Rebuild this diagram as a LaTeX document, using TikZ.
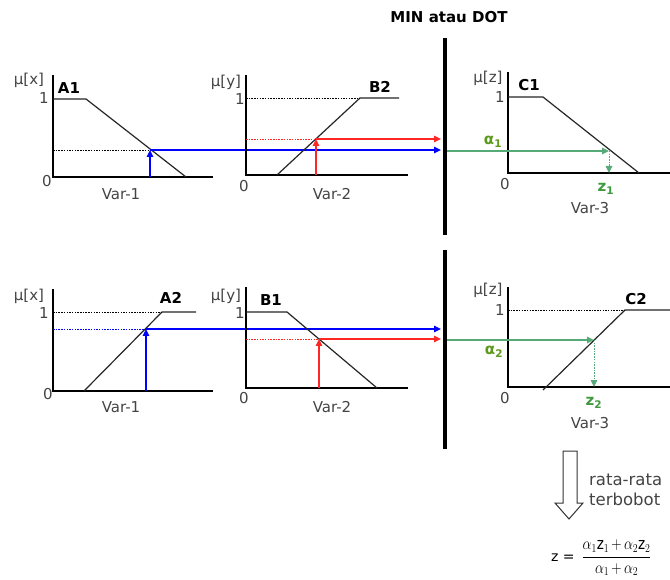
\documentclass[tikz,border=0pt]{standalone}
\usepackage{fontspec}
\setmainfont{DejaVu Sans}
\usepackage{amsmath}
\usetikzlibrary{arrows.meta, positioning}
\definecolor{inblue}{HTML}{0000FF}
\definecolor{inred}{HTML}{FF2626}
\definecolor{outgreen}{HTML}{55AA77}
\definecolor{alphagreen}{HTML}{5C9A1C}
\definecolor{zgreen}{HTML}{3E9A3E}
\definecolor{axgray}{HTML}{444444}

\begin{document}
\begin{tikzpicture}[x=1pt, y=-1pt,
    axis/.style={draw=black, line width=1.4pt},
    memb/.style={draw=black!85, line width=1.2pt},
    guide/.style={line width=0.9pt, dash pattern=on 1.5pt off 1.2pt},
    feed/.style={line width=1.3pt, -{Triangle[length=7pt, width=6.5pt]}},
    drop/.style={outgreen, guide, -{Triangle[length=7pt, width=6.5pt]}},
    gate/.style={draw=black, line width=4.5pt},
    lbl/.style={text=axgray, font=\fontsize{15}{17}\selectfont, inner sep=0pt},
    setname/.style={font=\fontsize{15}{17}\selectfont\bfseries, inner sep=0pt},
    alab/.style={text=alphagreen, font=\fontsize{15}{17}\selectfont\bfseries, inner sep=0pt},
    zlab/.style={text=zgreen, font=\fontsize{15}{17}\selectfont\bfseries, inner sep=0pt},
  ]
  \useasboundingbox[fill=white] (0,0) rectangle (670,580);

  % gate between the rules
  \node[setname] (title) at (449,17) {MIN atau DOT};
  \coordinate (g1top) at (445,38);
  \coordinate (g1bot) at (445,235);
  \coordinate (g2top) at (445,250);
  \coordinate (g2bot) at (445,449);
  \coordinate (gatein) at (441,0);
  \coordinate (gateout) at (447,0);
  \draw[gate] (g1top) -- (g1bot);
  \draw[gate] (g2top) -- (g2bot);

  % rule 1 : A1
  \draw[axis] (53,75) -- (53,177) -- (213,177);
  \draw[memb] (53,99) -- (86,99) -- (186,177);
  \node[lbl] (mux1) at (29,80) {μ[x]};
  \node[lbl] (onea1) at (44,98) {1};
  \node[lbl] (zeroa1) at (47,181) {0};
  \node[setname] (a1) at (69,88) {A1};
  \node[lbl] (var1a) at (121,194) {Var-1};
  \coordinate (a1in) at (150,177);
  \coordinate (a1cut) at (150,150);
  \draw[guide] (53,150) -- (a1cut);
  \draw[feed, inblue] (a1in) -- (a1cut);
  \draw[feed, inblue] (a1cut) -- (a1cut -| gatein);

  % rule 1 : B2
  \draw[axis] (246,75) -- (246,175) -- (408,175);
  \draw[memb] (277,175) -- (360,98) -- (399,98);
  \draw[guide] (246,98) -- (360,98);
  \node[lbl] (muy1) at (226,82) {μ[y]};
  \node[lbl] (oneb2) at (240,99) {1};
  \node[lbl] (zerob2) at (244,186) {0};
  \node[setname] (b2) at (380,87) {B2};
  \node[lbl] (var2a) at (332,194) {Var-2};
  \coordinate (b2in) at (316,175);
  \coordinate (b2cut) at (316,139);
  \draw[guide, inred] (246,139) -- (b2cut);
  \draw[feed, inred] (b2in) -- (b2cut);
  \draw[feed, inred] (b2cut) -- (b2cut -| gatein);

  % rule 1 : C1
  \draw[axis] (508,72) -- (508,173) -- (670,173);
  \draw[memb] (508,97) -- (543,97) -- (639,173);
  \node[lbl] (muz1) at (488,78) {μ[z]};
  \node[lbl] (onec1) at (500,97) {1};
  \node[lbl] (zeroc1) at (505,184) {0};
  \node[setname] (c1) at (529,85) {C1};
  \node[alab] (alpha1) at (493,142) {α\textsubscript{1}};
  \node[zlab] (z1) at (606,189) {z\textsubscript{1}};
  \node[lbl] (var3a) at (590,208) {Var-3};
  \coordinate (c1cut) at (609,151);
  \coordinate (c1foot) at (609,173);
  \draw[feed, outgreen] (c1cut -| gateout) -- (c1cut);
  \draw[drop] (c1cut) -- (c1foot);

  % rule 2 : A2
  \draw[axis] (53,289) -- (53,391) -- (213,391);
  \draw[memb] (84,391) -- (162,312) -- (196,312);
  \draw[guide] (53,312) -- (162,312);
  \node[lbl] (mux2) at (29,296) {μ[x]};
  \node[lbl] (onea2) at (44,313) {1};
  \node[lbl] (zeroa2) at (48,394) {0};
  \node[setname] (a2) at (171,298) {A2};
  \node[lbl] (var1b) at (121,407) {Var-1};
  \coordinate (a2in) at (146,391);
  \coordinate (a2cut) at (146,329);
  \draw[guide, inblue] (53,329) -- (a2cut);
  \draw[feed, inblue] (a2in) -- (a2cut);
  \draw[feed, inblue] (a2cut) -- (a2cut -| gatein);

  % rule 2 : B1
  \draw[axis] (246,287) -- (246,388) -- (408,388);
  \draw[memb] (246,312) -- (287,312) -- (377,388);
  \node[lbl] (muy2) at (226,296) {μ[y]};
  \node[lbl] (oneb1) at (240,313) {1};
  \node[lbl] (zerob1) at (244,398) {0};
  \node[setname] (b1) at (271,300) {B1};
  \node[lbl] (var2b) at (332,407) {Var-2};
  \coordinate (b1in) at (319,388);
  \coordinate (b1cut) at (319,339);
  \draw[guide, inred] (246,339) -- (b1cut);
  \draw[feed, inred] (b1in) -- (b1cut);
  \draw[feed, inred] (b1cut) -- (b1cut -| gatein);

  % rule 2 : C2
  \draw[axis] (508,287) -- (508,387) -- (670,387);
  \draw[memb] (543,390) -- (625,310) -- (670,310);
  \draw[guide] (508,310) -- (625,310);
  \node[lbl] (muz2) at (488,290) {μ[z]};
  \node[lbl] (onec2) at (500,310) {1};
  \node[lbl] (zeroc2) at (505,398) {0};
  \node[setname] (c2) at (636,299) {C2};
  \node[alab] (alpha2) at (494,352) {α\textsubscript{2}};
  \node[zlab] (z2) at (594,403) {z\textsubscript{2}};
  \node[lbl] (var3b) at (590,423) {Var-3};
  \coordinate (c2cut) at (594,340);
  \coordinate (c2foot) at (594,387);
  \draw[feed, outgreen] (c2cut -| gateout) -- (c2cut);
  \draw[drop] (c2cut) -- (c2foot);

  % weighted average
  \draw[line width=1pt, draw=black!80, fill=white]
    (563,451) -- (577,451) -- (577,503) -- (583,503) -- (569,519)
    -- (555,503) -- (563,503) -- cycle;
  \node[lbl, anchor=west, align=left, font=\fontsize{16.5}{20}\selectfont] (avg) at (589,490) {rata-rata\\terbobot};
  \node[text=black, anchor=west, inner sep=0pt, font=\fontsize{16.5}{19}\selectfont] (zres) at (551,558)
    {{\fontsize{14}{16}\selectfont z =}\hspace{7pt}\scalebox{0.82}[1]{$\dfrac{\alpha_1\text{z}_1\,{+}\,\alpha_2\text{z}_2}{\alpha_1\,{+}\,\alpha_2}$}};
\end{tikzpicture}
\end{document}
